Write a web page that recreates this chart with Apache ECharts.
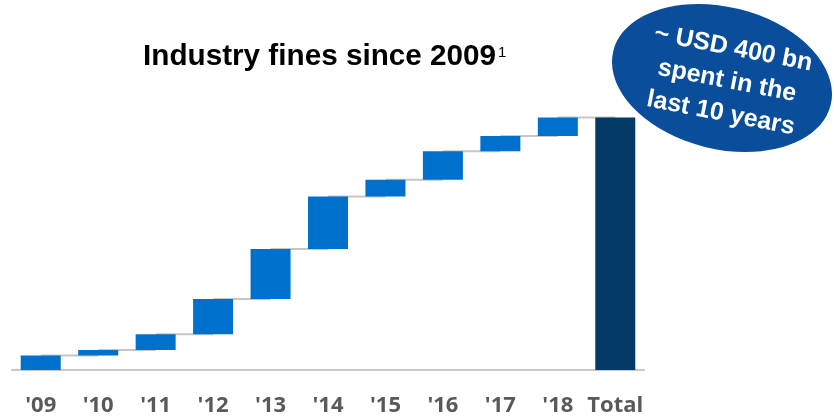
<!DOCTYPE html>
<html>
<head>
<meta charset="utf-8">
<script src="https://cdn.jsdelivr.net/npm/echarts@6/dist/echarts.min.js"></script>
<style>
  html, body { margin: 0; padding: 0; background: #fff; }
  #chart { width: 834px; height: 419px; }
</style>
</head>
<body>
<div id="chart"></div>
<script>
// Yearly industry fines, USD bn
const years = ["'09", "'10", "'11", "'12", "'13", "'14", "'15", "'16", "'17", "'18"];
const fines = [23, 8.5, 25, 56, 79, 83.5, 26.5, 45, 24, 29.5];
const totalLabel = 'Total';

const categories = years.concat([totalLabel]);

// running sum: level reached after each year
const cumulative = [];
fines.reduce((acc, v) => { const s = acc + v; cumulative.push(s); return s; }, 0);
const total = cumulative[cumulative.length - 1];

// invisible base under each floating step, zero under the total
const baseValues = [0].concat(cumulative.slice(0, -1)).concat([0]);
const stepValues = fines.concat(['-']);
const totalValues = years.map(() => '-').concat([total]);

const BAR_W = 40;

const chart = echarts.init(document.getElementById('chart'));
chart.setOption({
  animation: false,
  grid: { left: 12, right: 190, top: 117.5, bottom: 49, containLabel: false },
  xAxis: {
    type: 'category',
    data: categories,
    axisLine: { show: true, lineStyle: { color: '#c8c8c8', width: 2 } },
    axisTick: { show: false },
    axisLabel: {
      interval: 0,
      margin: 25,
      color: '#595959',
      fontFamily: 'Open Sans',
      fontWeight: 'bold',
      fontSize: 22
    }
  },
  yAxis: { type: 'value', min: 0, max: 400, show: false, splitLine: { show: false } },
  series: [
    {
      // connectors between consecutive steps
      type: 'custom',
      z: 1,
      silent: true,
      data: cumulative.map((v, i) => [i, v]),
      renderItem: (params, api) => {
        const i = api.value(0);
        const v = api.value(1);
        const a = api.coord([i, v]);
        const b = api.coord([i + 1, v]);
        return {
          type: 'line',
          shape: { x1: a[0], y1: a[1], x2: b[0], y2: b[1] },
          style: { stroke: '#c6c6c6', lineWidth: 2 }
        };
      }
    },
    {
      type: 'bar', stack: 'wf', z: 2, barWidth: BAR_W, silent: true,
      itemStyle: { color: 'transparent' },
      data: baseValues
    },
    {
      type: 'bar', stack: 'wf', z: 2, barWidth: BAR_W,
      itemStyle: { color: '#0070cd' },
      data: stepValues
    },
    {
      type: 'bar', stack: 'wf', z: 2, barWidth: BAR_W,
      itemStyle: { color: '#033a68' },
      data: totalValues
    }
  ],
  graphic: [
    {
      type: 'text', x: 143, y: 57, z: 10,
      style: {
        text: 'Industry fines since 2009',
        fill: '#000',
        font: 'bold 29.7px "Liberation Sans", Arial, sans-serif',
        textAlign: 'left', textVerticalAlign: 'middle'
      }
    },
    {
      type: 'text', x: 498, y: 53, z: 10,
      style: {
        text: '1',
        fill: '#000',
        font: '15px "Liberation Sans", Arial, sans-serif',
        textAlign: 'left', textVerticalAlign: 'middle'
      }
    },
    {
      type: 'ellipse', x: 722, y: 78, z: 10,
      rotation: -14 * Math.PI / 180,
      shape: { cx: 0, cy: 0, rx: 112, ry: 71 },
      style: { fill: '#0a4e9b' }
    },
    {
      type: 'text', x: 727, y: 81, z: 11,
      rotation: -11 * Math.PI / 180,
      style: {
        text: '~ USD 400 bn\nspent in the\nlast 10 years',
        fill: '#fff',
        font: 'bold 25px "Liberation Sans", Arial, sans-serif',
        lineHeight: 33,
        textAlign: 'center', textVerticalAlign: 'middle'
      }
    }
  ]
});
</script>
</body>
</html>
